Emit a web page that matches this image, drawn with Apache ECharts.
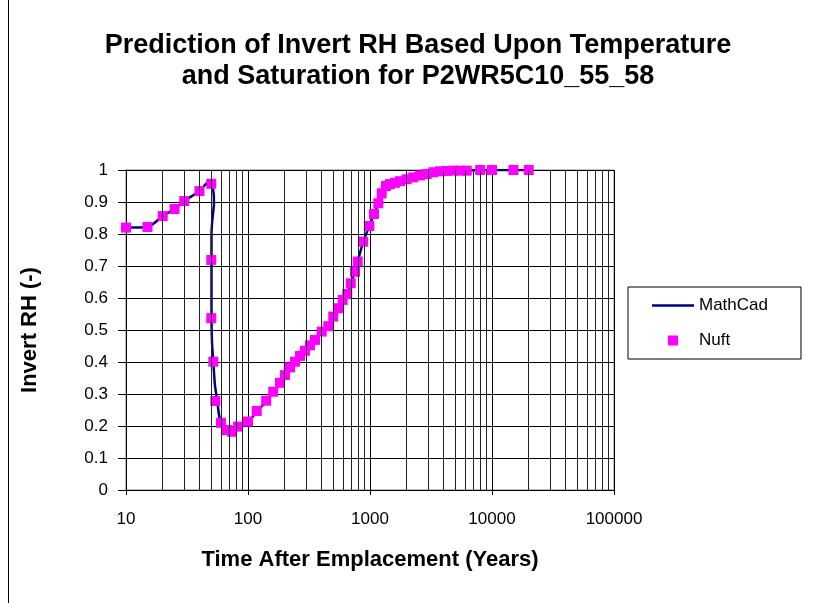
<!DOCTYPE html>
<html>
<head>
<meta charset="utf-8">
<script src="https://cdn.jsdelivr.net/npm/echarts@6/dist/echarts.min.js"></script>
<style>
  html, body { margin: 0; padding: 0; background: #ffffff; }
  #chart { width: 815px; height: 603px; }
</style>
</head>
<body>
<div id="chart"></div>
<script>
// Text
const titleLines = ['Prediction of Invert RH Based Upon Temperature', 'and Saturation for P2WR5C10_55_58'];
const xAxisTitle = 'Time After Emplacement (Years)';
const yAxisTitle = 'Invert RH (-)';
const seriesNames = ['MathCad', 'Nuft'];

// Axis ticks
const yTickLabels = ['0', '0.1', '0.2', '0.3', '0.4', '0.5', '0.6', '0.7', '0.8', '0.9', '1'];
const xTickLabels = ['10', '100', '1000', '10000', '100000'];

// Nuft model results (time in years, relative humidity)
const nuftTime = [10, 15, 20, 25, 30, 40, 50, 50, 50, 52, 54, 60, 67, 74, 83, 100,
  118, 141, 161, 183, 201, 221, 243, 267, 293, 322, 354, 402, 455, 500, 550, 597,
  651, 695, 754, 793, 881, 987, 1078, 1170, 1247, 1352, 1459, 1603, 1760, 1997,
  2264, 2571, 2920, 3307, 3750, 4257, 4825, 5470, 6210, 8000, 10000, 15000, 20000];
const nuftRH = [0.82, 0.822, 0.856, 0.878, 0.903, 0.934, 0.957, 0.719, 0.537, 0.401, 0.278, 0.21, 0.1875, 0.182, 0.198, 0.214,
  0.247, 0.279, 0.307, 0.335, 0.359, 0.383, 0.401, 0.419, 0.435, 0.452, 0.469, 0.495, 0.512, 0.542, 0.568, 0.594,
  0.6125, 0.646, 0.682, 0.714, 0.776, 0.825, 0.8625, 0.896, 0.927, 0.95, 0.956, 0.96, 0.965, 0.971,
  0.977, 0.983, 0.9875, 0.993, 0.996, 0.997, 0.998, 0.998, 0.998, 1.0, 1.0, 1.0, 1.0];

// MathCad prediction curve (time in years, relative humidity)
const mathcadTime = [10, 15, 20, 25, 30, 40, 48, 50, 52, 52.6, 51, 50.2, 50.2, 50.2, 50.7, 52, 53.5, 55.4, 58.2, 61, 66, 73, 82, 100,
  118, 141, 161, 183, 201, 221, 243, 267, 293, 322, 354, 402, 455, 500, 550, 597,
  651, 695, 754, 793, 881, 987, 1078, 1170, 1247, 1352, 1459, 1603, 1760, 1997,
  2264, 2571, 2920, 3307, 3750, 4257, 4825, 5470, 6210, 8000, 10000, 15000, 20000];
const mathcadRH = [0.82, 0.822, 0.856, 0.878, 0.903, 0.934, 0.963, 0.957, 0.935, 0.896, 0.844, 0.80, 0.72, 0.54, 0.46, 0.40, 0.33, 0.29, 0.229, 0.2, 0.186, 0.181, 0.19, 0.212,
  0.245, 0.277, 0.306, 0.334, 0.358, 0.382, 0.400, 0.418, 0.435, 0.452, 0.469, 0.495, 0.512, 0.542, 0.568, 0.594,
  0.614, 0.646, 0.682, 0.714, 0.776, 0.825, 0.8625, 0.896, 0.927, 0.95, 0.956, 0.96, 0.965, 0.971,
  0.977, 0.983, 0.9875, 0.993, 0.996, 0.997, 0.998, 0.998, 0.998, 1.0, 1.0, 1.0, 1.0];

const FONT = '"Liberation Sans", Arial, sans-serif';

// Minor vertical gridlines on the log axis: 2..9 within each decade
const minorGrid = [];
for (let d = 10; d < 100000; d *= 10) {
  for (let k = 2; k <= 9; k++) minorGrid.push({ xAxis: d * k });
}

const zip = (xs, ys) => xs.map((x, i) => [x, ys[i]]);

const chart = echarts.init(document.getElementById('chart'), null, { renderer: 'canvas' });

chart.setOption({
  animation: false,
  backgroundColor: '#ffffff',
  title: {
    text: titleLines.join('\n'),
    left: 418,
    top: 30,
    textAlign: 'center',
    padding: 0,
    textStyle: { fontFamily: FONT, fontSize: 27, fontWeight: 'bold', color: '#000', lineHeight: 31 }
  },
  legend: {
    orient: 'vertical',
    left: 628,
    top: 287,
    padding: [10, 33, 10, 24],
    itemGap: 18,
    itemWidth: 42,
    itemHeight: 10,
    borderColor: '#000',
    borderWidth: 1,
    backgroundColor: '#fff',
    textStyle: { fontFamily: FONT, fontSize: 17, color: '#000' },
    data: [
      { name: seriesNames[0], icon: 'path://M0,0h42v2.5h-42z' },
      { name: seriesNames[1], icon: 'path://M0,0h10v10h-10z' }
    ]
  },
  grid: {
    left: 126, right: 201, top: 170, bottom: 113,
    show: true, borderColor: '#808080', borderWidth: 1, backgroundColor: 'transparent',
    containLabel: false
  },
  xAxis: {
    type: 'log',
    logBase: 10,
    min: 10,
    max: 100000,
    name: xAxisTitle,
    nameLocation: 'middle',
    nameGap: 59,
    nameTextStyle: { fontFamily: FONT, fontSize: 22, fontWeight: 'bold', color: '#000' },
    axisLine: { show: true, lineStyle: { color: '#000', width: 1 } },
    axisTick: { show: true, inside: false, length: 5, lineStyle: { color: '#000' } },
    axisLabel: {
      margin: 21,
      fontFamily: FONT, fontSize: 17, color: '#000',
      formatter: (v) => {
        const i = Math.round(Math.log10(v)) - 1;
        return xTickLabels[i] !== undefined ? xTickLabels[i] : '';
      }
    },
    splitLine: { show: true, lineStyle: { color: '#000', width: 1 } }
  },
  yAxis: {
    type: 'value',
    min: 0,
    max: 1,
    interval: 0.1,
    name: yAxisTitle,
    nameLocation: 'middle',
    nameGap: 85,
    nameTextStyle: { fontFamily: FONT, fontSize: 22, fontWeight: 'bold', color: '#000' },
    axisLine: { show: true, lineStyle: { color: '#000', width: 1 } },
    axisTick: { show: true, inside: false, length: 8, lineStyle: { color: '#000' } },
    axisLabel: {
      margin: 18,
      fontFamily: FONT, fontSize: 17, color: '#000',
      formatter: (v) => yTickLabels[Math.round(v * 10)]
    },
    splitLine: { show: true, lineStyle: { color: '#000', width: 1 } }
  },
  series: [
    {
      // minor decade gridlines
      type: 'line',
      name: '__minor',
      data: [],
      silent: true,
      z: 1,
      markLine: {
        silent: true,
        symbol: ['none', 'none'],
        label: { show: false },
        lineStyle: { color: '#222', width: 1, type: 'solid' },
        emphasis: { disabled: true },
        data: minorGrid,
        animation: false
      }
    },
    {
      name: seriesNames[0],
      type: 'line',
      data: zip(mathcadTime, mathcadRH),
      symbol: 'none',
      smooth: 0.25,
      z: 3,
      lineStyle: { color: '#000080', width: 2.5 },
      itemStyle: { color: '#000080' }
    },
    {
      name: seriesNames[1],
      type: 'scatter',
      data: zip(nuftTime, nuftRH),
      symbol: 'rect',
      symbolSize: 10,
      z: 4,
      itemStyle: { color: '#ff00ff', opacity: 1 }
    }
  ],
  graphic: [
    {
      type: 'line',
      shape: { x1: 8.5, y1: 0, x2: 8.5, y2: 603 },
      style: { stroke: '#000', lineWidth: 1 },
      silent: true
    }
  ]
});
</script>
</body>
</html>
